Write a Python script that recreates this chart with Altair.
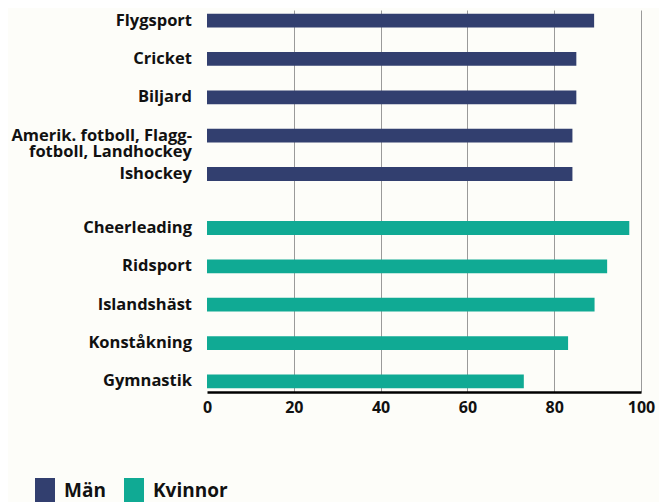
import altair as alt
import pandas as pd

groups = ["Män"] * 5 + ["Kvinnor"] * 5
sports = [
    "Flygsport",
    "Cricket",
    "Biljard",
    "Amerik. fotboll, Flagg-\nfotboll, Landhockey",
    "Ishockey",
    "Cheerleading",
    "Ridsport",
    "Islandshäst",
    "Konståkning",
    "Gymnastik",
]
values = [89.2, 85.1, 85.1, 84.2, 84.2, 97.3, 92.2, 89.3, 83.2, 73.0]
group_order = ["Män", "Kvinnor"]
colors = ["#323f6f", "#10aa94"]
x_ticks = [0, 20, 40, 60, 80, 100]

df = pd.DataFrame({"group": groups, "sport": sports, "value": values})
df["rank"] = df.groupby("group").cumcount() + 1

FONT = "Open Sans"

y_enc = alt.Y("group:N", sort=group_order, axis=None,
              scale=alt.Scale(paddingInner=0.194, paddingOuter=0.018))
yoff_enc = alt.YOffset("rank:O", scale=alt.Scale(paddingInner=0.64, paddingOuter=0))

bars = alt.Chart(df).mark_bar(cornerRadius=0).encode(
    x=alt.X("value:Q", scale=alt.Scale(domain=[0, 100], nice=False),
            axis=alt.Axis(values=x_ticks, title=None, format="d",
                          grid=True,
                          gridColor={"condition": {"test": "datum.value == 0", "value": "transparent"},
                                     "value": "#9a9a9a"},
                          gridWidth=1,
                          domain=True, domainColor="#000000", domainWidth=2.5,
                          ticks=False, labelFont=FONT, labelFontSize=16,
                          labelFontWeight="bold", labelColor="#111111",
                          labelPadding=7, labelFlush=False)),
    y=y_enc,
    yOffset=yoff_enc,
    color=alt.Color("group:N",
                    scale=alt.Scale(domain=group_order, range=colors),
                    legend=alt.Legend(orient="none", legendX=-172, legendY=471,
                                      direction="horizontal", title=None,
                                      symbolType="M-1,-1.3H1V1.3H-1Z",
                                      symbolSize=400, symbolStrokeWidth=0,
                                      symbolOpacity=1,
                                      labelFont=FONT, labelFontSize=19,
                                      labelFontWeight="bold", labelColor="#111111",
                                      columnPadding=18, labelOffset=9)),
)

labels = alt.Chart(df).mark_text(
    align="right", baseline="middle", dx=-15, lineBreak="\n", lineHeight=16,
    font=FONT, fontSize=16.5, fontWeight="bold", color="#111111"
).encode(
    x=alt.value(0),
    y=y_enc,
    yOffset=yoff_enc,
    text="sport:N",
)

chart = alt.layer(bars, labels).properties(
    width=434, height=382,
    autosize=alt.AutoSizeParams(type="none"),
    padding={"left": 199, "top": 2, "right": 18, "bottom": 110},
    background="#fdfdf9",
).configure_view(stroke=None)

chart.save("out.html", embed_options={"renderer": "svg", "actions": False})
